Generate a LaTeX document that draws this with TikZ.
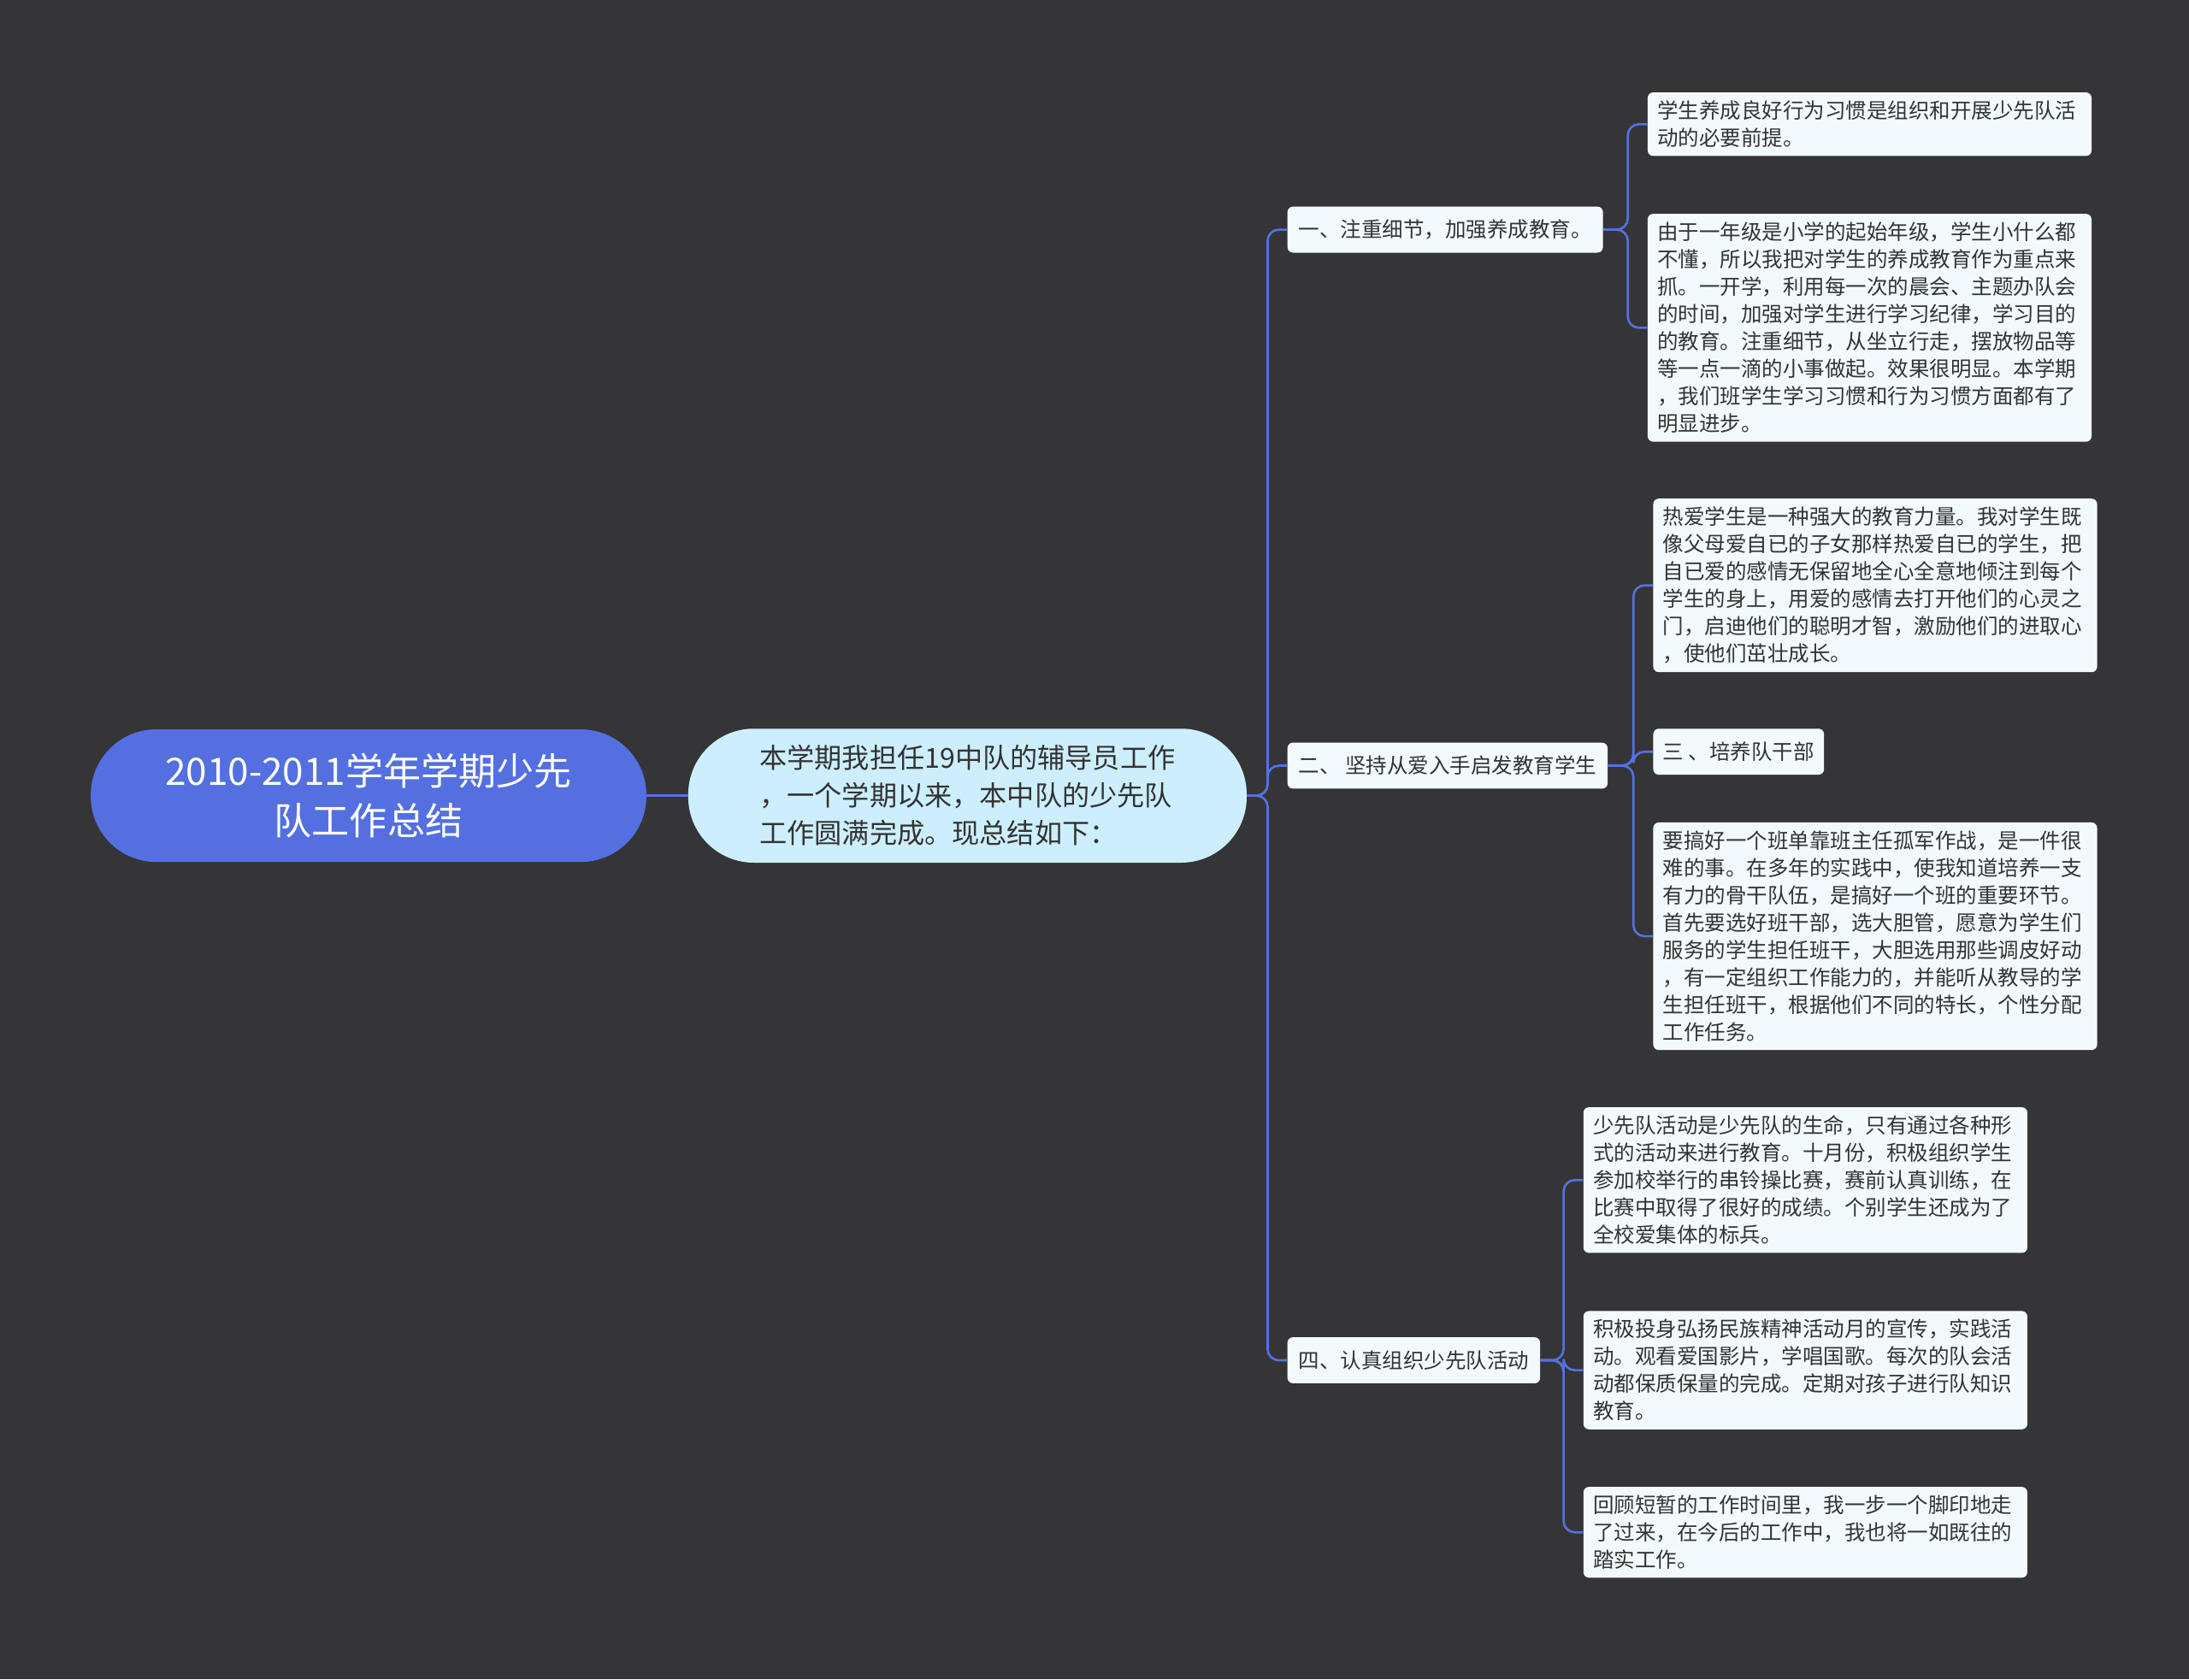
\documentclass[tikz,border=0pt]{standalone}
\usepackage{fontspec}
\setmainfont{Noto Sans CJK SC}
\begin{document}
\begin{tikzpicture}[x=1pt,y=-1pt,
  leaf/.style={draw=none,fill=leafc,rounded corners=4pt,align=left,anchor=north west,inner xsep=7pt,inner ysep=6pt,font=\fontsize{15}{19.6}\selectfont,text=textc},
  br/.style={fill=leafc,rounded corners=4pt,anchor=west,inner xsep=8pt,minimum height=33pt,font=\fontsize{15}{18}\selectfont,text=textc},
  conn/.style={draw=linec,line width=1.6pt,rounded corners=8pt}]
\definecolor{bgc}{HTML}{353437}
\definecolor{leafc}{HTML}{F2FAFD}
\definecolor{textc}{HTML}{333333}
\definecolor{linec}{HTML}{5572DE}
\definecolor{rootc}{HTML}{5470E0}
\definecolor{cenc}{HTML}{CDEFFD}
\fill[bgc] (0,0) rectangle (1568,1203);
\useasboundingbox (0,0) rectangle (1568,1203);
\node[fill=rootc,rounded corners=47pt,minimum width=398pt,minimum height=95pt,text=white,align=center,font=\fontsize{27}{35}\selectfont] (root) at (264,570) {2010-2011学年学期少先\\队工作总结};
\node[fill=cenc,rounded corners=47pt,minimum width=400pt,minimum height=96pt,text=textc,align=left,font=\fontsize{19.7}{27}\selectfont] (cen) at (693,570) {本学期我担任19中队的辅导员工作\\，一个学期以来，本中队的少先队\\工作圆满完成。现总结如下：};
\node[br] (b1) at (922,164.5) {一、注重细节，加强养成教育。};
\node[br] (b2) at (922,548.5) {二、 坚持从爱入手启发教育学生};
\node[br] (b4) at (922,974.5) {四、认真组织少先队活动};
\node[leaf,text width=304pt] (l1a) at (1180,66) {学生养成良好行为习惯是组织和开展少先队活\\动的必要前提。};
\node[leaf,text width=304pt] (l1b) at (1180,153) {由于一年级是小学的起始年级，学生小什么都\\不懂，所以我把对学生的养成教育作为重点来\\抓。一开学，利用每一次的晨会、主题办队会\\的时间，加强对学生进行学习纪律，学习目的\\的教育。注重细节，从坐立行走，摆放物品等\\等一点一滴的小事做起。效果很明显。本学期\\，我们班学生学习习惯和行为习惯方面都有了\\明显进步。};
\node[leaf,text width=304pt] (l2a) at (1184,357) {热爱学生是一种强大的教育力量。我对学生既\\像父母爱自已的子女那样热爱自已的学生，把\\自已爱的感情无保留地全心全意地倾注到每个\\学生的身上，用爱的感情去打开他们的心灵之\\门，启迪他们的聪明才智，激励他们的进取心\\，使他们茁壮成长。};
\node[leaf,minimum height=33pt,anchor=west] (l2b) at (1184,538.5) {三 、培养队干部};
\node[leaf,text width=304pt] (l2c) at (1184,589) {要搞好一个班单靠班主任孤军作战，是一件很\\难的事。在多年的实践中，使我知道培养一支\\有力的骨干队伍，是搞好一个班的重要环节。\\首先要选好班干部，选大胆管，愿意为学生们\\服务的学生担任班干，大胆选用那些调皮好动\\，有一定组织工作能力的，并能听从教导的学\\生担任班干，根据他们不同的特长，个性分配\\工作任务。};
\node[leaf,text width=304pt] (l4a) at (1134,793) {少先队活动是少先队的生命，只有通过各种形\\式的活动来进行教育。十月份，积极组织学生\\参加校举行的串铃操比赛，赛前认真训练，在\\比赛中取得了很好的成绩。个别学生还成为了\\全校爱集体的标兵。};
\node[leaf,text width=304pt] (l4b) at (1134,939) {积极投身弘扬民族精神活动月的宣传，实践活\\动。观看爱国影片，学唱国歌。每次的队会活\\动都保质保量的完成。定期对孩子进行队知识\\教育。};
\node[leaf,text width=304pt] (l4c) at (1134,1065) {回顾短暂的工作时间里，我一步一个脚印地走\\了过来，在今后的工作中，我也将一如既往的\\踏实工作。};
\draw[conn] (root.east) -- (cen.west);
\foreach \b in {b1,b2,b4}{\draw[conn] (cen.east) -- (908,570) |- (\b.west);}
\foreach \l in {l1a,l1b}{\draw[conn] (b1.east) -- (1166,164.5) |- (\l.west);}
\foreach \l in {l2a,l2b,l2c}{\draw[conn] (b2.east) -- (1170,548.5) |- (\l.west);}
\foreach \l in {l4a,l4b,l4c}{\draw[conn] (b4.east) -- (1120,974.5) |- (\l.west);}
\end{tikzpicture}
\end{document}
